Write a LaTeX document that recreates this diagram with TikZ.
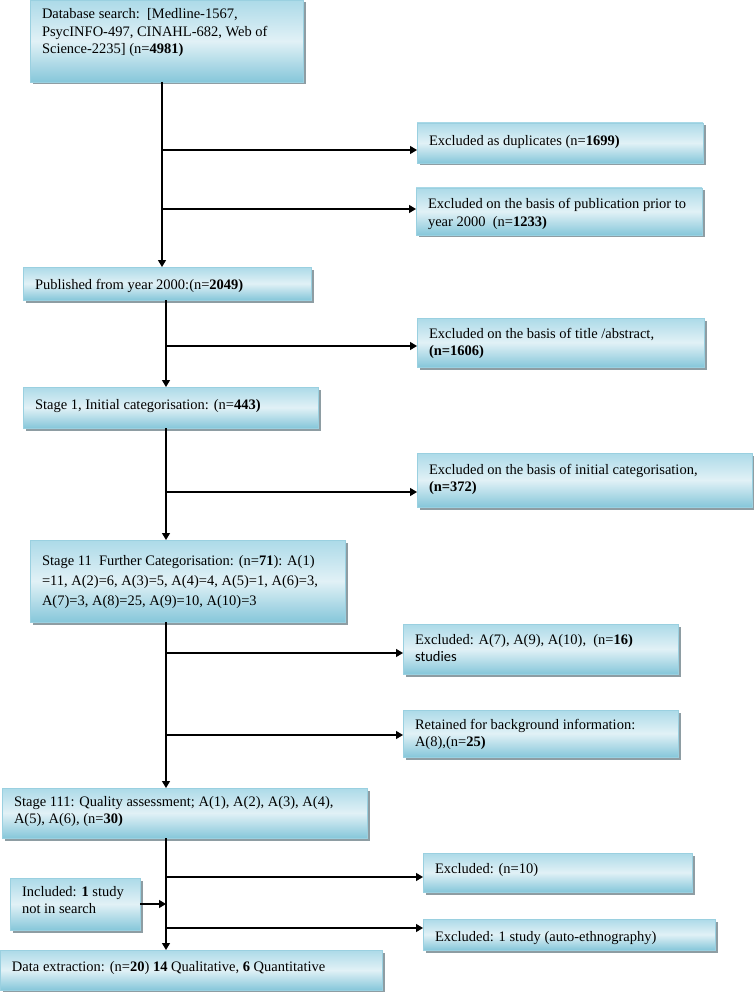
\documentclass[tikz,border=0pt]{standalone}
\usepackage{fontspec}
\setmainfont{Liberation Serif}
\newfontfamily\carl{Carlito}
\usetikzlibrary{arrows.meta,shadows}
\definecolor{bdark}{HTML}{86C7DA}
\definecolor{bmid}{HTML}{ACDAE8}
\definecolor{blight}{HTML}{E1F1F6}
\definecolor{bline}{HTML}{9AD0E0}
\definecolor{shad}{HTML}{8E9DA3}
\newcommand\boxtext[4]{\parbox[c][#2pt][t]{\dimexpr#1pt-24pt\relax}{\raggedright\rule{0pt}{#3pt}#4}}
\tikzset{
 flowbox/.style={draw=bline, line width=0.8pt, inner xsep=12pt, inner ysep=0pt, outer sep=0pt,
   anchor=north west, top color=bmid, bottom color=bdark, middle color=blight,
   drop shadow={shadow xshift=2.5pt, shadow yshift=-2.5pt, fill=shad, opacity=1},
   font=\fontsize{14.5}{17.5}\selectfont},
 arr/.style={line width=1.2pt, -{Triangle[length=7pt,width=8pt]}},
}
\begin{document}
\begin{tikzpicture}[x=1pt,y=-1pt]
\useasboundingbox (0,0) rectangle (754,992);
\node[flowbox] (db) at (30,0) {\boxtext{273}{82}{19}{Database search:\ \ [Medline-1567,\\PsycINFO-497, CINAHL-682, Web of\\Science-2235] (n=\textbf{4981)}}};
\node[flowbox] (dup) at (417,123) {\boxtext{286}{40}{23}{Excluded as duplicates (n=\textbf{1699)}}};
\node[flowbox] (pub) at (416,188) {\boxtext{286}{47}{21}{Excluded on the basis of publication prior to\\year 2000\ \ (n=\textbf{1233)}}};
\node[flowbox] (published) at (23,267) {\boxtext{288}{33}{22}{Published from year 2000:(n=\textbf{2049)}}};
\node[flowbox] (title) at (417,318) {\boxtext{287}{49}{20}{Excluded on the basis of title /abstract,\\\textbf{(n=1606)}}};
\node[flowbox] (stage1) at (23,387) {\boxtext{295}{41}{22}{Stage 1, Initial categorisation: (n=\textbf{443)}}};
\node[flowbox] (init) at (417,453) {\boxtext{335}{54}{21}{Excluded on the basis of initial categorisation,\\\textbf{(n=372)}}};
\node[flowbox] (stage11) at (30,540) {\boxtext{315}{82}{25}{\baselineskip=20pt Stage 11\ \ Further Categorisation: (n=\textbf{71}): A(1)\\=11, A(2)=6, A(3)=5, A(4)=4, A(5)=1, A(6)=3,\\A(7)=3, A(8)=25, A(9)=10, A(10)=3}};
\node[flowbox] (a7) at (403,624) {\boxtext{275}{50}{20}{Excluded: A(7), A(9), A(10),\ \ (n=\textbf{16)}\\{\carl studies}}};
\node[flowbox] (ret) at (403,710) {\boxtext{275}{47}{19}{Retained for background information:\\A(8),(n=\textbf{25)}}};
\node[flowbox] (s111) at (2,788) {\boxtext{365}{50}{18}{Stage 111: Quality assessment; A(1), A(2), A(3), A(4),\\A(5), A(6), (n=\textbf{30)}}};
\node[flowbox] (n10) at (423,853) {\boxtext{269}{39}{20}{Excluded: (n=10)}};
\node[flowbox] (incl) at (10,878) {\boxtext{130}{52}{18}{Included: \textbf{1} study\\not in search}};
\node[flowbox] (one) at (423,919) {\boxtext{292}{31}{22}{Excluded: 1 study (auto-ethnography)}};
\node[flowbox] (data) at (0,950) {\boxtext{382}{40}{21}{Data extraction: (n=\textbf{20}) \textbf{14} Qualitative, \textbf{6} Quantitative}};
\coordinate (s0) at (162,0);
\coordinate (s1) at (166,0);
\draw[arr] (db.south -| s0) -- (published.north -| s0);
\draw[arr] (published.south -| s1) -- (stage1.north -| s1);
\draw[arr] (stage1.south -| s1) -- (stage11.north -| s1);
\draw[arr] (stage11.south -| s1) -- (s111.north -| s1);
\draw[arr] (s111.south -| s1) -- (data.north -| s1);
\coordinate (b1) at (162,150);
\coordinate (b2) at (162,209);
\coordinate (b3) at (166,346);
\coordinate (b4) at (166,492);
\coordinate (b5) at (166,653);
\coordinate (b6) at (166,735);
\coordinate (b7) at (166,877);
\coordinate (b8) at (166,928);
\draw[arr] (b1) -- (b1 -| dup.west);
\draw[arr] (b2) -- (b2 -| pub.west);
\draw[arr] (b3) -- (b3 -| title.west);
\draw[arr] (b4) -- (b4 -| init.west);
\draw[arr] (b5) -- (b5 -| a7.west);
\draw[arr] (b6) -- (b6 -| ret.west);
\draw[arr] (b7) -- (b7 -| n10.west);
\draw[arr] (b8) -- (b8 -| one.west);
\draw[arr] (incl.east) -- (incl.east -| s1);
\end{tikzpicture}
\end{document}
